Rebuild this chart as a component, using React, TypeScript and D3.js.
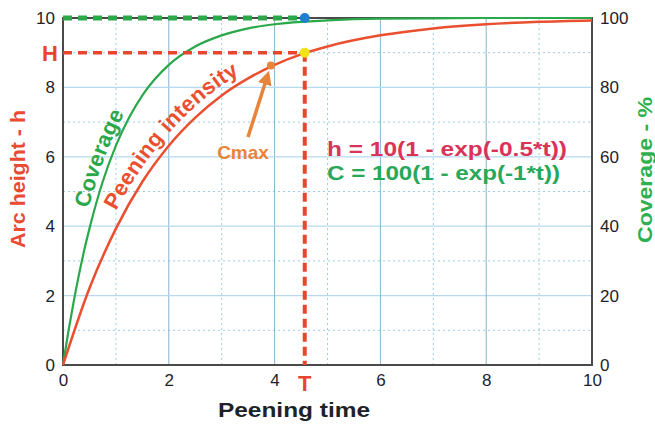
import React, { useEffect, useRef } from 'react';
import * as d3 from 'd3';

// values
const coverageT = [0, 0.1, 0.2, 0.3, 0.4, 0.5, 0.75, 1, 1.25, 1.5, 2, 2.5, 3, 3.5, 4, 5, 6, 7, 8, 9, 10];
const coverage = [0, 9.5, 18.1, 25.9, 33.0, 39.3, 52.8, 63.2, 71.3, 77.7, 86.5, 91.8, 95.0, 97.0, 98.2, 99.3, 99.8, 99.9, 100, 100, 100];

const heightT = [0, 0.5, 1, 1.5, 2, 2.5, 3, 3.5, 4, 4.5, 5, 6, 7, 8, 9, 10];
const arcHeight = [0, 2.21, 3.93, 5.28, 6.32, 7.13, 7.77, 8.26, 8.65, 8.95, 9.18, 9.5, 9.7, 9.82, 9.89, 9.93];

const xTicks = [0, 2, 4, 6, 8, 10];
const hTicks = [0, 2, 4, 6, 8, 10];
const cTicks = [0, 20, 40, 60, 80, 100];

const markT = 4.57;   // T
const markH = 9.0;    // H
const cmaxT = 3.93;
const cmaxH = 8.63;

const RED = '#ea4f2f';
const GREEN = '#2aa84a';
const ORANGE = '#e8843a';

const App = () => {
	const ref = useRef<SVGSVGElement>(null);

	useEffect(() => {
		const width = 655;
		const height = 430;
		const margin = { left: 63, right: 63, top: 18, bottom: 65 };
		const svg = d3.select(ref.current);
		svg.selectAll('*').remove();

		const x = d3.scaleLinear().domain([0, 10]).range([margin.left, width - margin.right]);
		const y = d3.scaleLinear().domain([0, 10]).range([height - margin.bottom, margin.top]);
		const yc = d3.scaleLinear().domain([0, 100]).range([height - margin.bottom, margin.top]);

		const font = "'Liberation Sans', Arial, sans-serif";

		// grid
		const grid = svg.append('g');
		d3.range(1, 10, 2).forEach(v => {
			grid.append('line')
				.attr('x1', x(v)).attr('x2', x(v))
				.attr('y1', y(0)).attr('y2', y(10))
				.style('stroke', '#9fcbe6').style('stroke-width', 1)
				.style('stroke-dasharray', '2,3');
			grid.append('line')
				.attr('x1', x(0)).attr('x2', x(10))
				.attr('y1', y(v)).attr('y2', y(v))
				.style('stroke', '#9fcbe6').style('stroke-width', 1)
				.style('stroke-dasharray', '2,3');
		});
		[2, 4, 6, 8].forEach(v => {
			grid.append('line')
				.attr('x1', x(v)).attr('x2', x(v))
				.attr('y1', y(0)).attr('y2', y(10))
				.style('stroke', '#86b3cf').style('stroke-width', 1);
			grid.append('line')
				.attr('x1', x(0)).attr('x2', x(10))
				.attr('y1', y(v)).attr('y2', y(v))
				.style('stroke', '#b5d9ee').style('stroke-width', 1.2);
		});

		// axes
		const xAxis = svg.append('g')
			.attr('transform', `translate(0,${y(0)})`)
			.call(d3.axisBottom(x).tickValues(xTicks).tickSize(0).tickPadding(9));
		const yAxis = svg.append('g')
			.attr('transform', `translate(${x(0)},0)`)
			.call(d3.axisLeft(y).tickValues(hTicks).tickSize(0).tickPadding(8));
		const cAxis = svg.append('g')
			.attr('transform', `translate(${x(10)},0)`)
			.call(d3.axisRight(yc).tickValues(cTicks).tickSize(0).tickPadding(8));
		[xAxis, yAxis, cAxis].forEach(g => {
			g.select('.domain').remove();
			g.selectAll('text')
				.style('font-family', font)
				.style('font-size', '17px')
				.style('fill', '#1e2228');
		});

		// frame
		svg.append('rect')
			.attr('x', x(0)).attr('y', y(10))
			.attr('width', x(10) - x(0)).attr('height', y(0) - y(10))
			.style('fill', 'none').style('stroke', '#4a4a4a').style('stroke-width', 2);

		// curves
		const covLine = d3.line<number>()
			.x((d, i) => x(coverageT[i]))
			.y(d => yc(d))
			.curve(d3.curveMonotoneX);
		const hLine = d3.line<number>()
			.x((d, i) => x(heightT[i]))
			.y(d => y(d))
			.curve(d3.curveMonotoneX);

		svg.append('path')
			.attr('id', 'cov-path')
			.datum(coverage)
			.attr('d', covLine)
			.style('fill', 'none').style('stroke', GREEN).style('stroke-width', 2.2);

		svg.append('path')
			.attr('id', 'h-path')
			.datum(arcHeight)
			.attr('d', hLine)
			.style('fill', 'none').style('stroke', RED).style('stroke-width', 2.5);

		// guide lines
		svg.append('line')
			.attr('x1', x(0)).attr('x2', x(markT))
			.attr('y1', y(10)).attr('y2', y(10))
			.style('stroke', GREEN).style('stroke-width', 5)
			.style('stroke-dasharray', '9,6');
		svg.append('line')
			.attr('x1', x(0)).attr('x2', x(markT))
			.attr('y1', y(markH)).attr('y2', y(markH))
			.style('stroke', '#e9452c').style('stroke-width', 3.5)
			.style('stroke-dasharray', '9,6');
		svg.append('line')
			.attr('x1', x(markT)).attr('x2', x(markT))
			.attr('y1', y(markH)).attr('y2', y(0))
			.style('stroke', '#e9452c').style('stroke-width', 4)
			.style('stroke-dasharray', '9,5');

		svg.append('circle')
			.attr('cx', x(markT)).attr('cy', y(10)).attr('r', 5)
			.style('fill', '#1f7fd0');
		svg.append('circle')
			.attr('cx', x(markT)).attr('cy', y(markH)).attr('r', 5)
			.style('fill', '#f2e21a');
		svg.append('circle')
			.attr('cx', x(cmaxT)).attr('cy', y(cmaxH)).attr('r', 4)
			.style('fill', ORANGE);

		// Cmax arrow
		svg.append('defs').append('marker')
			.attr('id', 'arrow')
			.attr('viewBox', '0 0 10 10')
			.attr('refX', 5).attr('refY', 5)
			.attr('markerWidth', 4).attr('markerHeight', 4)
			.attr('orient', 'auto')
			.append('path')
			.attr('d', 'M0,0 L10,5 L0,10 Z')
			.style('fill', ORANGE);
		svg.append('line')
			.attr('x1', 248).attr('y1', 137)
			.attr('x2', x(cmaxT) - 4).attr('y2', y(cmaxH) + 12)
			.style('stroke', ORANGE).style('stroke-width', 3.5)
			.attr('marker-end', 'url(#arrow)');
		svg.append('text')
			.attr('x', 243).attr('y', 159)
			.attr('text-anchor', 'middle')
			.style('font-family', font).style('font-weight', 'bold')
			.style('font-size', '19px').style('fill', ORANGE)
			.text('Cmax');

		// labels on the curves
		svg.append('text')
			.attr('dy', -6)
			.style('font-family', font).style('font-weight', 'bold')
			.style('font-size', '22px').style('fill', GREEN)
			.append('textPath')
			.attr('href', '#cov-path')
			.attr('startOffset', 158)
			.text('Coverage');
		svg.append('text')
			.attr('dy', -8)
			.style('font-family', font).style('font-weight', 'bold')
			.style('font-size', '22px').style('fill', RED)
			.append('textPath')
			.attr('href', '#h-path')
			.attr('startOffset', 162)
			.text('Peening intensity');

		// formulas
		svg.append('text')
			.attr('x', 327).attr('y', 156)
			.attr('textLength', 240).attr('lengthAdjust', 'spacingAndGlyphs')
			.style('font-family', font).style('font-weight', 'bold')
			.style('font-size', '21px').style('fill', '#d8345a')
			.text('h = 10(1 - exp(-0.5*t))');
		svg.append('text')
			.attr('x', 327).attr('y', 180)
			.attr('textLength', 233).attr('lengthAdjust', 'spacingAndGlyphs')
			.style('font-family', font).style('font-weight', 'bold')
			.style('font-size', '21px').style('fill', '#27a85a')
			.text('C = 100(1 - exp(-1*t))');

		// H and T marks
		svg.append('text')
			.attr('x', 50).attr('y', y(markH) + 8)
			.attr('text-anchor', 'middle')
			.style('font-family', font).style('font-weight', 'bold')
			.style('font-size', '22px').style('fill', '#e9452c')
			.text('H');
		svg.append('text')
			.attr('x', x(markT)).attr('y', 391)
			.attr('text-anchor', 'middle')
			.style('font-family', font).style('font-weight', 'bold')
			.style('font-size', '22px').style('fill', '#e9452c')
			.text('T');

		// axis titles
		svg.append('text')
			.attr('x', 294).attr('y', 417)
			.attr('text-anchor', 'middle')
			.attr('textLength', 152).attr('lengthAdjust', 'spacingAndGlyphs')
			.style('font-family', font).style('font-weight', 'bold')
			.style('font-size', '21px').style('fill', '#1e2228')
			.text('Peening time');
		svg.append('text')
			.attr('transform', 'translate(25,179) rotate(-90)')
			.attr('text-anchor', 'middle')
			.attr('textLength', 138).attr('lengthAdjust', 'spacingAndGlyphs')
			.style('font-family', font).style('font-weight', 'bold')
			.style('font-size', '21px').style('fill', '#ea4a30')
			.text('Arc height - h');
		svg.append('text')
			.attr('transform', 'translate(652,170) rotate(-90)')
			.attr('text-anchor', 'middle')
			.attr('textLength', 146).attr('lengthAdjust', 'spacingAndGlyphs')
			.style('font-family', font).style('font-weight', 'bold')
			.style('font-size', '21px').style('fill', '#2db04f')
			.text('Coverage - %');
	}, []);

	return (
		<svg ref={ref} width={655} height={430}
			style={{ position: 'absolute', left: 0, top: 0, background: '#fff' }} />
	);
};

export default App;
